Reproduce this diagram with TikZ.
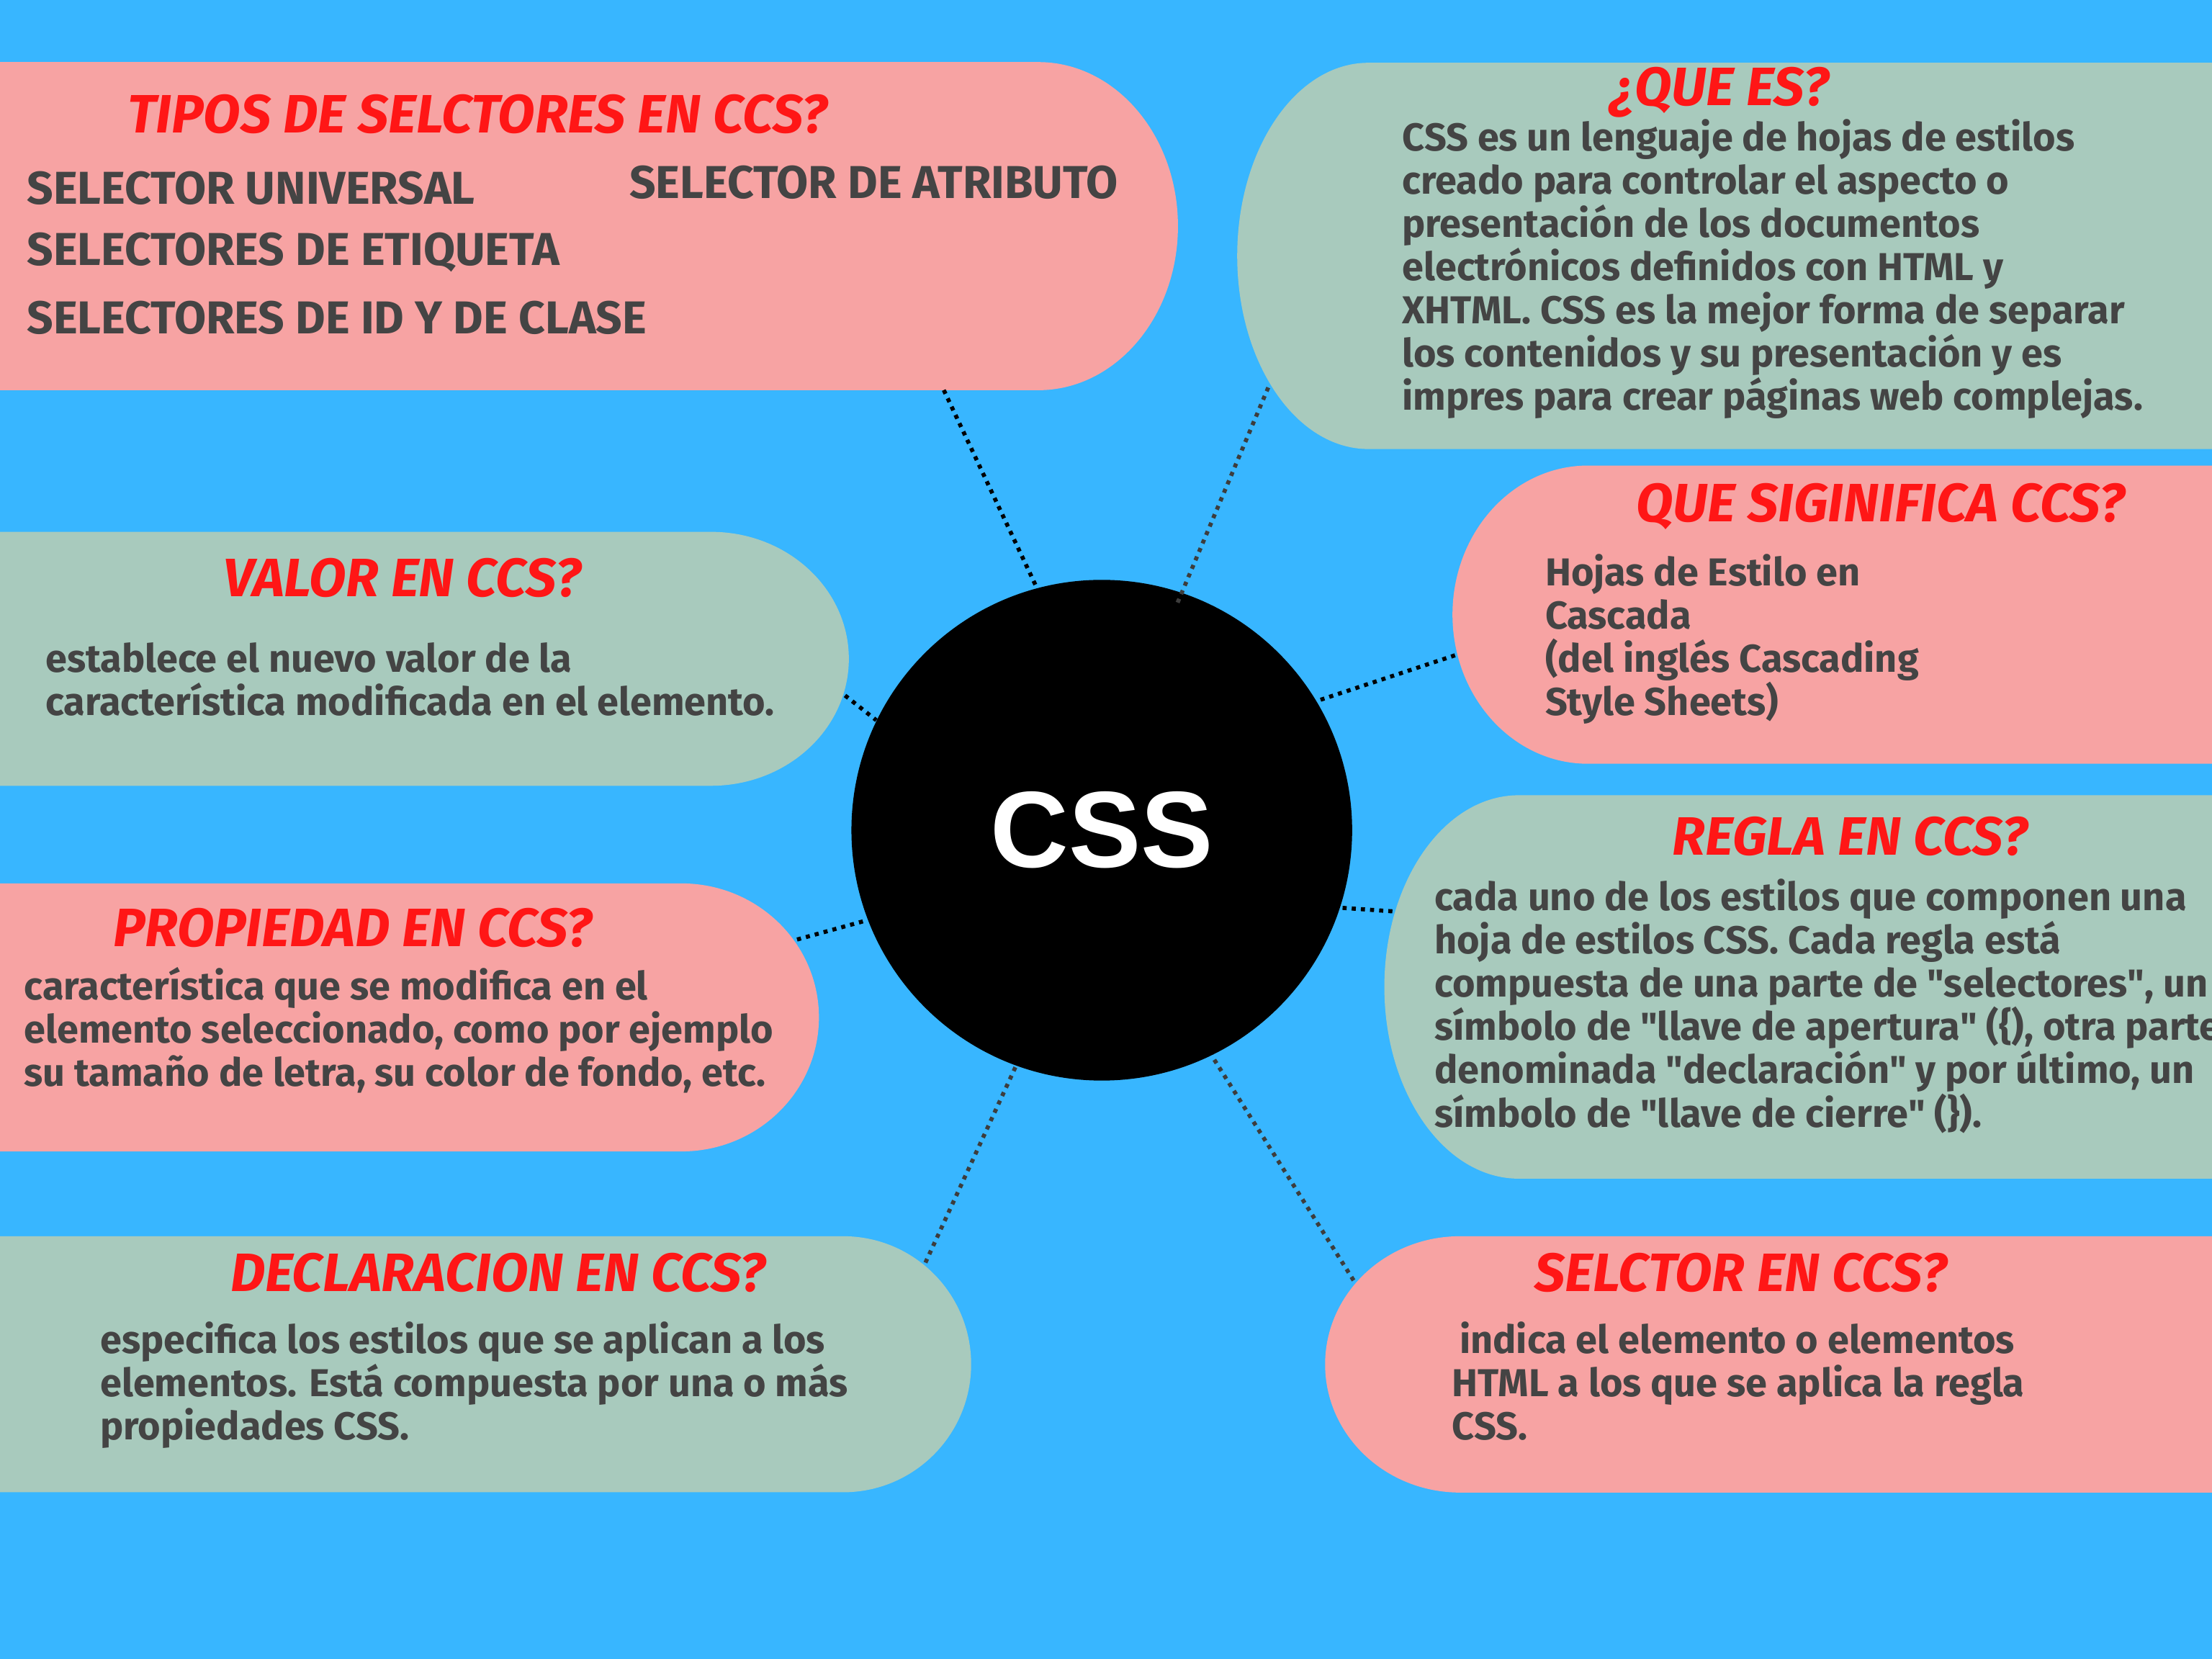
\documentclass[tikz,border=0pt]{standalone}
\usepackage{fontspec}
\setmainfont{Fira Sans}
\newfontfamily\logofont{Liberation Sans}
\definecolor{skyblue}{HTML}{38B6FF}
\definecolor{boxpink}{HTML}{F7A3A3}
\definecolor{boxgreen}{HTML}{A8CABD}
\definecolor{headred}{HTML}{FF1616}
\definecolor{bodygray}{HTML}{444444}
\definecolor{linkgray}{HTML}{3D3D3D}
\newcommand{\qq}{\textquotedbl{}}
\tikzset{
  qhead/.style={font=\fontsize{21.8}{24}\selectfont\bfseries\itshape,text=headred,anchor=base},
  qbody/.style={font=\fontsize{15.7}{17.45}\selectfont\bfseries,text=bodygray,align=left,anchor=base west},
  kind/.style={font=\fontsize{18.6}{20}\selectfont\bfseries,text=bodygray,anchor=base west},
  link/.style={line width=1.65pt,dash pattern=on 1.65pt off 2.05pt}
}
\begin{document}
\begin{tikzpicture}[x=0.02cm,y=-0.02cm,every node/.style={inner sep=0pt}]
\useasboundingbox (0,0) rectangle (1568,1176);
\clip (0,0) rectangle (1568,1176);
\fill[skyblue] (0,0) rectangle (1568,1176);
% left column
\fill[boxpink] (-20,44) -- (736,44) arc[start angle=-90,end angle=90,x radius=99,y radius=116.3] -- (-20,276.6) -- cycle;
\fill[boxgreen] (-20,377) -- (504,377) arc[start angle=-90,end angle=90,x radius=97.7,y radius=90] -- (-20,557) -- cycle;
\fill[boxpink] (-20,626.2) -- (483,626.2) arc[start angle=-90,end angle=90,x radius=97.5,y radius=95] -- (-20,816.2) -- cycle;
\fill[boxgreen] (-20,876.3) -- (597.7,876.3) arc[start angle=-90,end angle=90,x radius=90.7,y radius=90.75] -- (-20,1057.8) -- cycle;
% right column
\fill[boxgreen] (1600,318.3) -- (970,318.3) arc[start angle=90,end angle=270,x radius=93,y radius=136.9] -- (1600,44.5) -- cycle;
\fill[boxpink] (1600,541.4) -- (1125.6,541.4) arc[start angle=90,end angle=270,x radius=96,y radius=105.7] -- (1600,330) -- cycle;
\fill[boxgreen] (1600,835.5) -- (1076.6,835.5) arc[start angle=90,end angle=270,x radius=95.3,y radius=135.9] -- (1600,563.7) -- cycle;
\fill[boxpink] (1600,1058) -- (1035,1058) arc[start angle=90,end angle=270,x radius=95.7,y radius=90.85] -- (1600,876.3) -- cycle;

\node[circle,fill=black,minimum size=7.1cm,text=white,font=\logofont\bfseries\fontsize{43.75}{48}\selectfont] (css) at (781,588.5) {CSS};

\coordinate (tiposLink) at (669,276.5);
\coordinate (queesLink) at (899,274.7);
\coordinate (sigLink) at (1031.4,464.5);
\coordinate (valorLink) at (599,493);
\coordinate (reglaLink) at (987,646);
\coordinate (propLink) at (565,666);
\coordinate (declLink) at (656,895);
\coordinate (selcLink) at (959.5,907.6);
\draw[link] (tiposLink) -- (css.105.2);
\draw[link,linkgray] (queesLink) -- (834.4,428);
\draw[link] (sigLink) -- (css.31.9);
\draw[link] (valorLink) -- (css.154);
\draw[link] (reglaLink) -- (css.-18.8);
\draw[link] (propLink) -- (css.201);
\draw[link,linkgray] (declLink) -- (css.250.1);
\draw[link,linkgray] (selcLink) -- (css.-64.8);

\node[qhead] (tiposHead) at (338.5,94.4) {TIPOS DE SELCTORES EN CCS?};
\node[kind] (universal) at (18.8,144.6) {SELECTOR UNIVERSAL};
\node[kind] (etiqueta) at (18.8,188) {SELECTORES DE ETIQUETA};
\node[kind] (idclase) at (18.8,236.5) {SELECTORES DE ID Y DE CLASE};
\node[kind] (atributo) at (445.8,140.4) {SELECTOR DE ATRIBUTO};

\node[qhead] (queesHead) at (1219,75) {¿QUE ES?};
\node[qbody] (queesText) at (993.7,290.8) {CSS es un lenguaje de hojas de estilos\\
creado para controlar el aspecto o\\
presentación de los documentos\\
electrónicos definidos con HTML y\\
XHTML. CSS es la mejor forma de separar\\
los contenidos y su presentación y es\\
impres para crear páginas web complejas.};

\node[qhead] (sigHead) at (1333,370) {QUE SIGINIFICA CCS?};
\node[qbody] (sigText) at (1095,507.2) {Hojas de Estilo en\\
Cascada\\
(del inglés Cascading\\
Style Sheets)};

\node[qhead] (valorHead) at (285,422.8) {VALOR EN CCS?};
\node[qbody] (valorText) at (32,507.1) {establece el nuevo valor de la\\
característica modificada en el elemento.};

\node[qhead] (reglaHead) at (1311.5,606.2) {REGLA EN CCS?};
\node[qbody] (reglaText) at (1016.5,798.8) {cada uno de los estilos que componen una\\
hoja de estilos CSS. Cada regla está\\
compuesta de una parte de \qq selectores\qq, un\\
símbolo de \qq llave de apertura\qq\ (\{), otra parte\\
denominada \qq declaración\qq\ y por último, un\\
símbolo de \qq llave de cierre\qq\ (\}).};

\node[qhead] (propHead) at (250,670.7) {PROPIEDAD EN CCS?};
\node[qbody] (propText) at (16.8,770) {característica que se modifica en el\\
elemento seleccionado, como por ejemplo\\
su tamaño de letra, su color de fondo, etc.};

\node[qhead] (declHead) at (353,915.4) {DECLARACION EN CCS?};
\node[qbody] (declText) at (70.8,1020.6) {especifica los estilos que se aplican a los\\
elementos. Está compuesta por una o más\\
propiedades CSS.};

\node[qhead] (selcHead) at (1234,915.4) {SELCTOR EN CCS?};
\node[qbody] (selcText) at (1029,1020.6) {\hspace*{3pt}indica el elemento o elementos\\
HTML a los que se aplica la regla\\
CSS.};
\end{tikzpicture}
\end{document}
